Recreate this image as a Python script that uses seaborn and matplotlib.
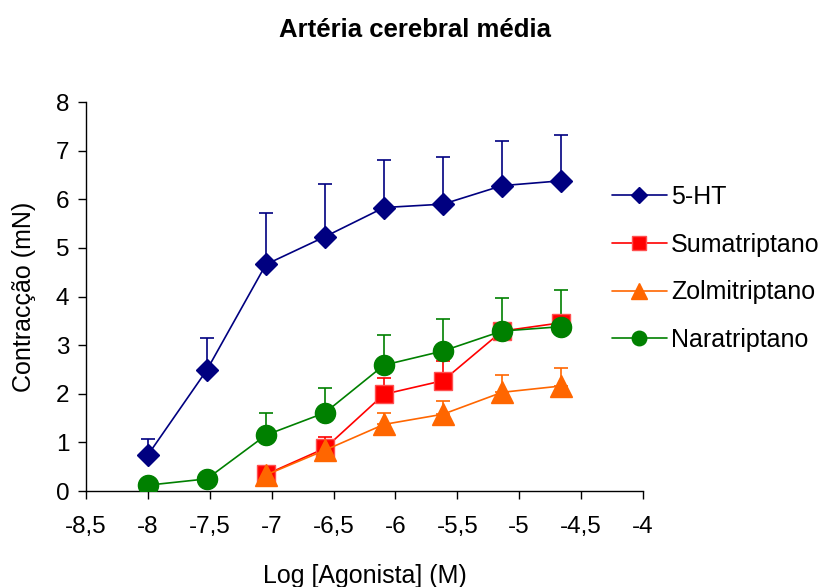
import matplotlib
matplotlib.use("Agg")
import matplotlib.pyplot as plt
from matplotlib.lines import Line2D
import seaborn as sns
import pandas as pd
import numpy as np

# Data
log_conc = [-8.0, -7.523, -7.046, -6.569, -6.092, -5.615, -5.138, -4.661]

ht_mean = [0.74, 2.49, 4.66, 5.23, 5.83, 5.90, 6.28, 6.38]
ht_err = [0.32, 0.65, 1.06, 1.08, 0.97, 0.97, 0.92, 0.95]

suma_x = [-7.046, -6.569, -6.092, -5.615, -5.138, -4.661]
suma_mean = [0.34, 0.88, 1.99, 2.27, 3.29, 3.46]
suma_err = [0.10, 0.24, 0.33, 0.41, 0.12, 0.06]

zolmi_x = [-7.046, -6.569, -6.092, -5.615, -5.138, -4.661]
zolmi_mean = [0.33, 0.84, 1.37, 1.58, 2.03, 2.16]
zolmi_err = [0.08, 0.12, 0.23, 0.28, 0.36, 0.36]

nara_mean = [0.12, 0.25, 1.15, 1.61, 2.59, 2.88, 3.29, 3.38]
nara_err = [0.0, 0.0, 0.45, 0.51, 0.61, 0.65, 0.67, 0.75]

series_names = ["5-HT", "Sumatriptano", "Zolmitriptano", "Naratriptano"]
xticks = [-8.5, -8, -7.5, -7, -6.5, -6, -5.5, -5, -4.5, -4]
xticklabels = ["-8,5", "-8", "-7,5", "-7", "-6,5", "-6", "-5,5", "-5", "-4,5", "-4"]
yticks = [0, 1, 2, 3, 4, 5, 6, 7, 8]

sns.set_style("ticks")
plt.rcParams['font.family'] = ['Liberation Sans', 'DejaVu Sans']
plt.rcParams['text.color'] = 'black'
plt.rcParams['axes.labelcolor'] = 'black'
plt.rcParams['xtick.color'] = 'black'
plt.rcParams['ytick.color'] = 'black'

fig = plt.figure(figsize=(8.3, 5.87), dpi=100)
ax = fig.add_axes([0.1036, 0.1635, 0.671, 0.6627])

colors = {"5-HT": "#000080", "Sumatriptano": "#ff0000",
          "Zolmitriptano": "#ff6600", "Naratriptano": "#008000"}
markers = {"5-HT": "D", "Sumatriptano": "s", "Zolmitriptano": "^", "Naratriptano": "o"}
msizes = {"5-HT": 11.5, "Sumatriptano": 13.5, "Zolmitriptano": 16, "Naratriptano": 14.5}
medge = {"5-HT": "#000080", "Sumatriptano": "#ff5050",
         "Zolmitriptano": "#ff6600", "Naratriptano": "#008000"}

data = {
    "5-HT": (log_conc, ht_mean, ht_err),
    "Sumatriptano": (suma_x, suma_mean, suma_err),
    "Zolmitriptano": (zolmi_x, zolmi_mean, zolmi_err),
    "Naratriptano": (log_conc, nara_mean, nara_err),
}

for name in series_names:
    x, m, e = data[name]
    df = pd.DataFrame({"x": x, "y": m})
    ax.errorbar(x, m, yerr=[np.zeros(len(e)), e], fmt='none',
                ecolor=colors[name], elinewidth=1.2, capsize=5, capthick=1.2, zorder=2)
    sns.lineplot(data=df, x="x", y="y", ax=ax, color=colors[name],
                 marker=markers[name], markersize=msizes[name],
                 markeredgecolor=medge[name], markeredgewidth=1,
                 linewidth=1.2, estimator=None, sort=False, zorder=3)

FS = 17.5
ax.set_xlim(-8.5, -4)
ax.set_ylim(0, 8)
ax.set_xticks(xticks)
ax.set_xticklabels(xticklabels)
ax.set_yticks(yticks)
ax.tick_params(axis='both', labelsize=FS, length=6, width=1, color='black',
               labelcolor='black', direction='out')
ax.tick_params(axis='x', pad=12)
ax.tick_params(axis='y', pad=6)
for s in ["top", "right"]:
    ax.spines[s].set_visible(False)
for s in ["left", "bottom"]:
    ax.spines[s].set_color("black")
    ax.spines[s].set_linewidth(1)

ax.set_xlabel("Log [Agonista] (M)", fontsize=18, labelpad=19, color='black')
ax.set_ylabel("Contracção (mN)", fontsize=18, labelpad=14, color='black')

fig.suptitle("Artéria cerebral média", fontsize=18.5, fontweight='bold',
             x=0.5, y=0.97, color='black')

handles = [Line2D([0], [0], color=colors[n], marker=markers[n], markersize=msizes[n] * 0.72,
                  markeredgecolor=medge[n], linewidth=1.2) for n in series_names]
leg = fig.legend(handles, series_names, loc='upper left', bbox_to_anchor=(0.71, 0.7235),
                 frameon=False, fontsize=18, handlelength=2.2, handletextpad=0.16,
                 labelspacing=0.95)
for t in leg.get_texts():
    t.set_color('black')

fig.savefig("out.png", dpi=100)
